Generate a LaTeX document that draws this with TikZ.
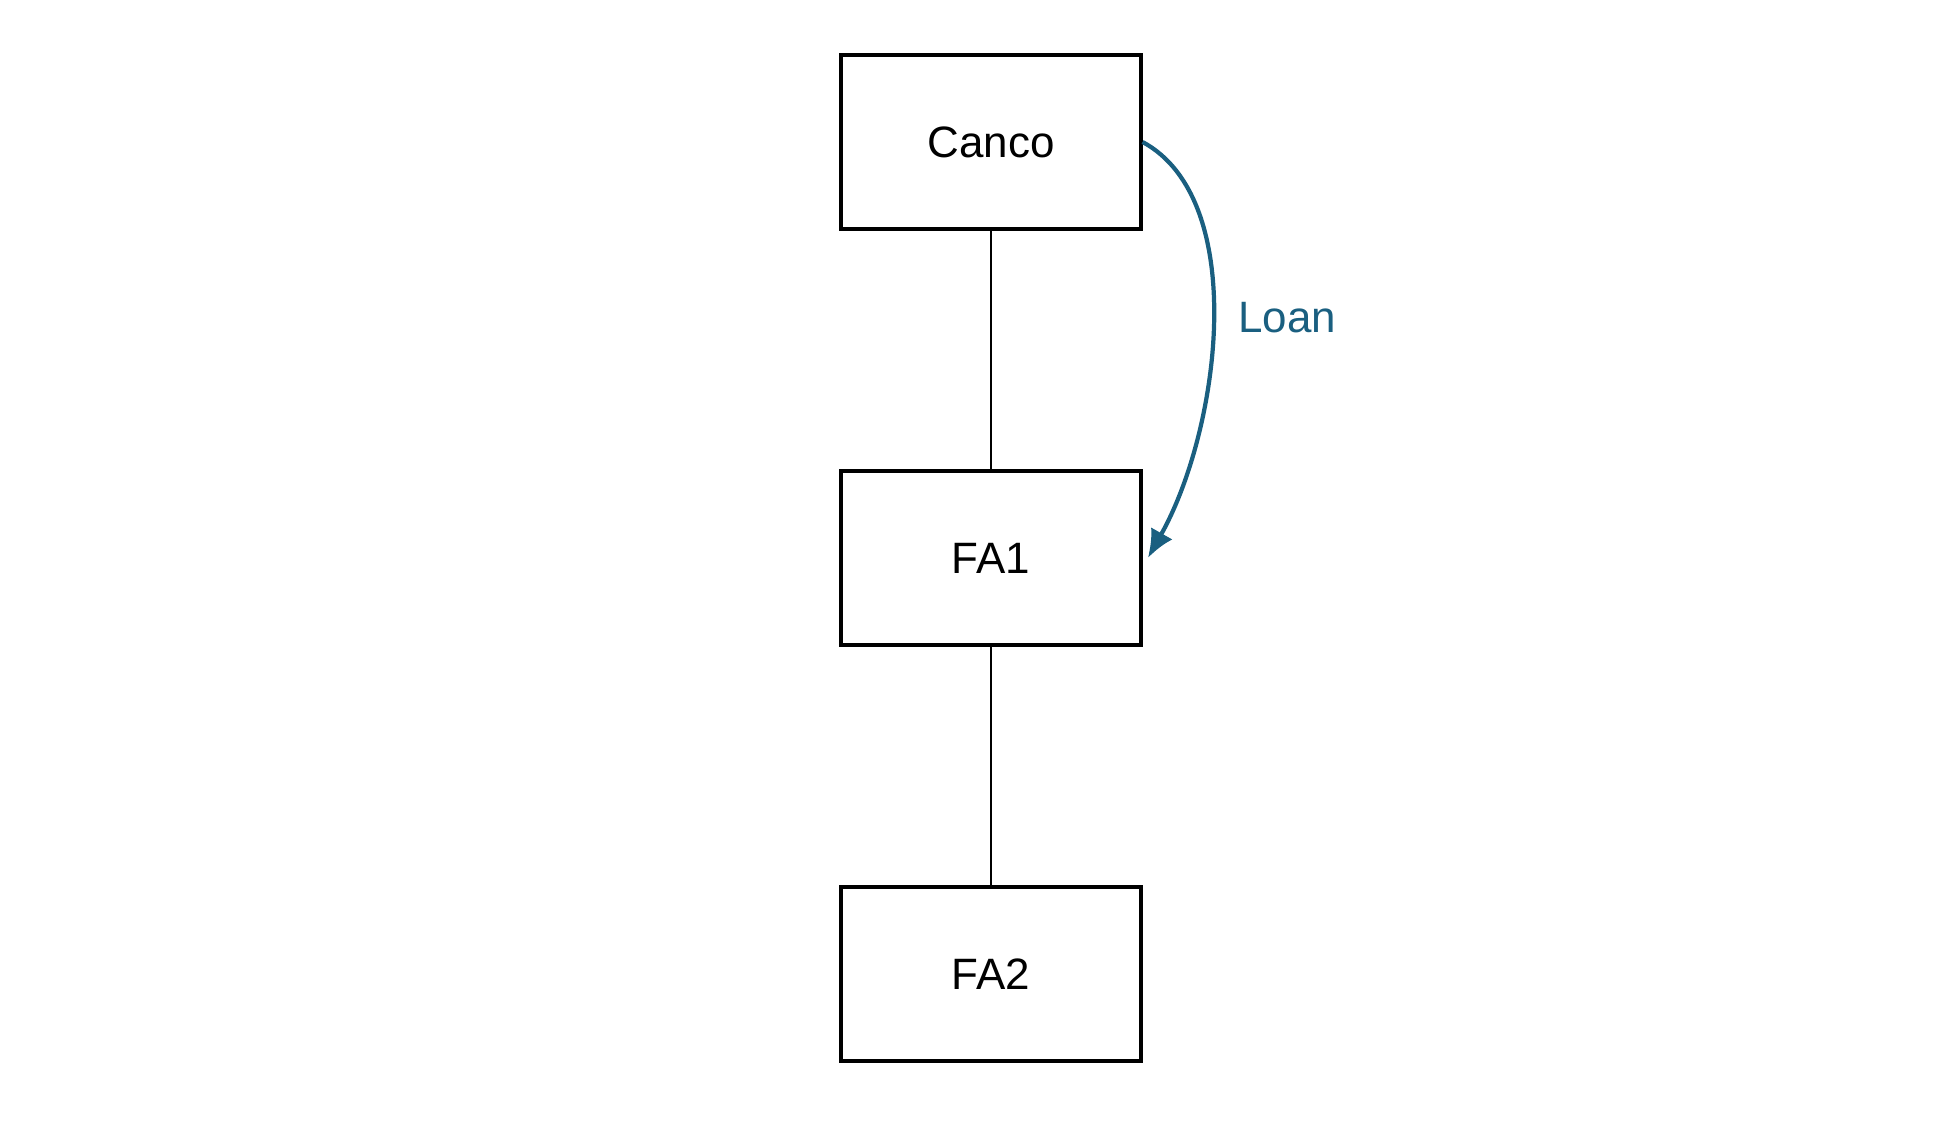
\documentclass[tikz,border=0pt]{standalone}
\usepackage{fontspec}
\setmainfont{Liberation Sans}
\usetikzlibrary{arrows.meta}
\definecolor{loanblue}{HTML}{1A5F80}
\tikzset{
  entity/.style={draw, line width=0.9pt, minimum width=3cm, minimum height=1.74cm, font=\fontsize{12.5}{15}\selectfont},
  link/.style={line width=0.7pt}
}
\begin{document}
\begin{tikzpicture}
\useasboundingbox (0,0) rectangle (19.44,11.25);

% Entities
\node[entity] (canco) at (9.91,9.83) {Canco};
\node[entity] (fa1) at (9.91,5.67) {FA1};
\node[entity] (fa2) at (9.91,1.51) {FA2};

% Ownership links
\draw[link] (canco.south) -- (fa1.north);
\draw[link] (fa1.south) -- (fa2.north);

% Loan flow
\draw[loanblue, line width=1.2pt, -{Latex[length=8pt,width=7pt]}] (canco.east) .. controls (12.5,9.25) and (12.2,6.95) .. ([xshift=1.5pt]fa1.east);
\node[text=loanblue, font=\fontsize{12.5}{15}\selectfont] (loan) at (12.87,8.07) {Loan};
\end{tikzpicture}
\end{document}
